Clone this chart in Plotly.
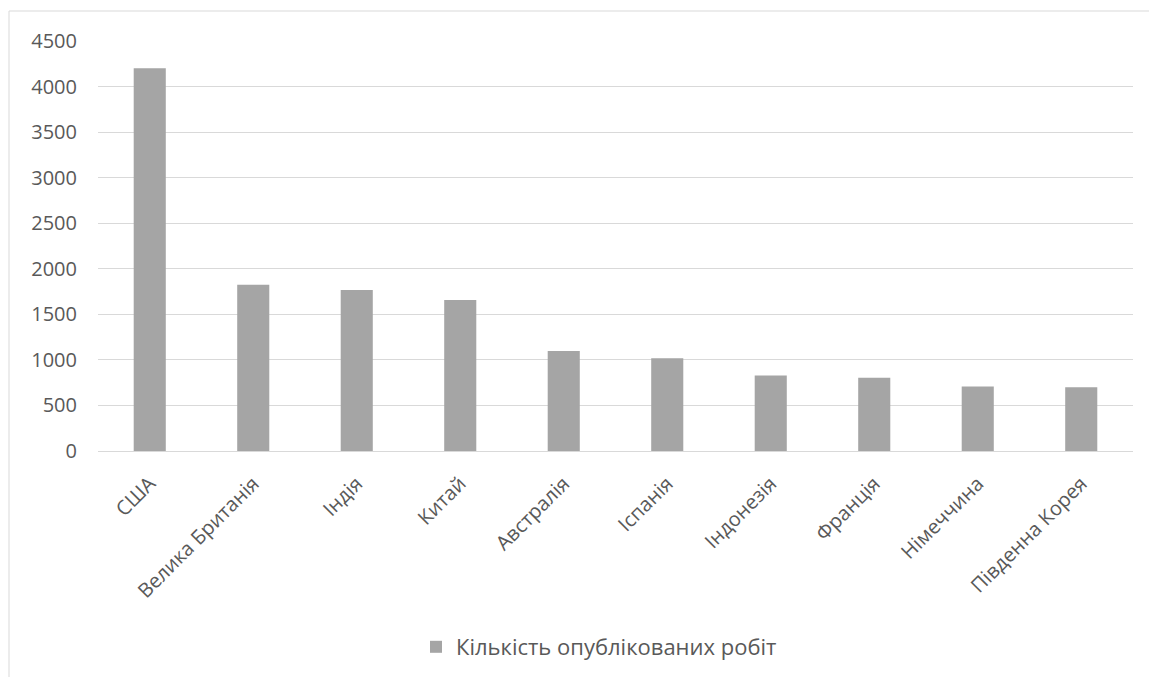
import plotly.graph_objects as go

countries = ["США", "Велика Британія", "Індія", "Китай", "Австралія", "Іспанія",
             "Індонезія", "Франція", "Німеччина", "Південна Корея"]
values = [4200, 1825, 1767, 1656, 1098, 1018, 830, 804, 709, 701]
series_name = "Кількість опублікованих робіт"
y_ticks = [0, 500, 1000, 1500, 2000, 2500, 3000, 3500, 4000, 4500]

W, H = 1149, 677
L, R, T, B = 98, 16, 41, 226
pw = W - L - R
ph = H - T - B

FONT = "Open Sans"
TXT = "#595959"

fig = go.Figure()
fig.add_trace(go.Bar(x=countries, y=values, name=series_name,
                     marker=dict(color="#A5A5A5", line=dict(width=0)),
                     showlegend=True))

def px_x(x):
    return (x - L) / pw

def px_y(y):
    return (H - B - y) / ph

fig.update_layout(
    width=W, height=H,
    margin=dict(l=L, r=R, t=T, b=B, autoexpand=False),
    paper_bgcolor="white", plot_bgcolor="white",
    font=dict(family=FONT, size=20, color=TXT),
    bargap=0.69,
    showlegend=True,
    legend=dict(orientation="h", x=px_x(416), xanchor="left", y=px_y(647), yanchor="middle",
                font=dict(family=FONT, size=22, color=TXT), itemwidth=30),
    xaxis=dict(tickangle=-45, showgrid=False, showline=True, linecolor="#D9D9D9",
               linewidth=1, ticks="", ticklabelstandoff=12,
               tickfont=dict(family=FONT, size=20, color=TXT)),
    yaxis=dict(range=[0, 4500], tickvals=y_ticks, showgrid=True, gridcolor="#D9D9D9",
               gridwidth=1, zeroline=False, showline=False, ticks="", ticklen=0,
               ticklabelstandoff=20,
               tickfont=dict(family=FONT, size=20, color=TXT)),
    shapes=[dict(type="rect", xref="paper", yref="paper",
                 x0=px_x(9), x1=px_x(1152), y0=px_y(680), y1=px_y(11),
                 line=dict(color="#D9D9D9", width=1), fillcolor="rgba(0,0,0,0)", layer="below")],
)
fig.write_html("out.html")
